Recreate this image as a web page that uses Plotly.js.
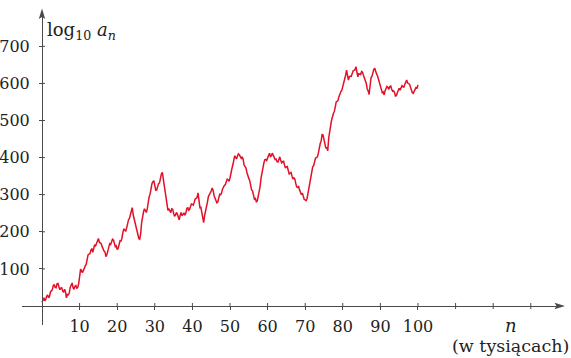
<!DOCTYPE html>
<html>
<head>
<meta charset="utf-8">
<script src="https://cdn.plot.ly/plotly-3.0.1.min.js"></script>
<style>html,body{margin:0;padding:0;background:#fff;}#chart{width:571px;height:358px;}</style>
</head>
<body>
<div id="chart"></div>
<script>
// values of log10(a_n), read every 0.25 thousand of n
const log10a = [
10,20,22,14,18,27,30,22,26,38,42,44,55,58,50,49,60,61,52,44,48,49,40,37,45,38,22,31,30,35,50,59,62,50,45,53,55,47,50,60,
88,98,97,90,95,106,108,112,125,138,140,141,150,155,145,160,165,162,170,180,182,172,170,168,160,150,148,146,133,138,150,164,168,166,175,180,178,165,160,162,
152,155,168,176,175,182,198,208,205,201,210,225,232,236,245,258,265,246,235,228,214,208,195,182,180,196,225,244,254,262,258,252,262,283,295,302,318,330,335,338,
325,312,313,326,330,332,345,356,360,341,330,315,290,268,258,261,254,252,262,261,250,242,245,252,248,238,232,245,252,243,248,251,245,250,262,266,258,260,268,275,
274,272,280,289,290,293,305,282,265,266,255,235,225,244,255,262,280,295,300,301,310,318,312,298,290,287,278,280,292,301,300,304,315,323,325,327,335,342,340,336,
345,361,370,380,398,405,400,397,405,410,407,400,398,402,395,380,375,372,360,348,344,338,325,313,310,302,288,290,281,283,295,304,322,344,360,370,385,394,395,392,
400,410,412,403,405,412,407,398,395,396,389,388,398,402,392,386,389,390,380,372,375,376,365,356,358,360,350,342,345,342,330,321,320,322,313,302,300,304,295,287,
286,284,290,306,315,330,355,369,375,378,389,399,400,402,412,428,438,445,462,461,450,430,425,428,418,452,478,485,500,514,519,524,540,550,552,555,565,575,578,582,
591,606,615,622,636,618,609,618,620,619,627,634,635,637,645,628,618,626,625,624,632,630,622,614,612,600,585,580,570,598,615,619,630,638,641,628,625,620,610,598,
595,580,575,577,569,580,585,592,590,584,591,593,585,579,580,576,566,567,575,584,587,582,590,594,591,590,598,607,609,601,600,598,590,580,575,573,580,588,590,586,
596
];
// n in thousands
const nThousands = log10a.map((_, i) => i * 0.25);

const xLabelVals = [10,20,30,40,50,60,70,80,90,100];
const xLabelText = ['10','20','30','40','50','60','70','80','90','100'];
const xExtraTickVals = [110,120,130];
const yTickVals = [100,200,300,400,500,600,700];
const yTickText = ['100','200','300','400','500','600','700'];

const axisColor = '#4a4a4a';
const serif = 'DejaVu Serif, Liberation Serif, serif';
const tickFont = {family: serif, size: 16, color: '#222'};

// plot area geometry (pixels)
const M = {l: 22, r: 11, t: 12, b: 33};
const W = 571 - M.l - M.r, H = 358 - M.t - M.b;
const px = v => (v - M.l) / W;
const py = v => (358 - M.b - v) / H;

const xRange = [-5.32, 137.77];
const yRange = [-51.2, 792.5];
const xPos = py(306);
const yPos = px(42);

const traces = [
  {x: nThousands, y: log10a, type: 'scatter', mode: 'lines',
   line: {color: 'rgb(226,16,40)', width: 1.5}, hoverinfo: 'skip'}
];

// upper halves of the x ticks and right halves of the y ticks (ticks cross the axes)
const tickShapes = [];
xLabelVals.forEach(v => tickShapes.push({type: 'line', xref: 'x', yref: 'paper', x0: v, x1: v,
  y0: py(306), y1: py(303), line: {color: axisColor, width: 1}}));
xExtraTickVals.forEach(v => tickShapes.push({type: 'line', xref: 'x', yref: 'paper', x0: v, x1: v,
  y0: py(309), y1: py(303), line: {color: axisColor, width: 1}}));
yTickVals.forEach(v => tickShapes.push({type: 'line', xref: 'paper', yref: 'y', x0: px(42), x1: px(45),
  y0: v, y1: v, line: {color: axisColor, width: 1}}));

const layout = {
  width: 571, height: 358,
  margin: M,
  paper_bgcolor: '#fff', plot_bgcolor: 'rgba(0,0,0,0)',
  showlegend: false,
  xaxis: {range: xRange, anchor: 'free', position: xPos, showgrid: false, zeroline: false,
    showline: true, linecolor: axisColor, linewidth: 1,
    tickmode: 'array', tickvals: xLabelVals, ticktext: xLabelText,
    ticks: 'outside', ticklen: 3, tickcolor: axisColor, tickwidth: 1,
    tickfont: tickFont, ticklabelstandoff: 3},
  yaxis: {range: yRange, anchor: 'free', position: yPos, showgrid: false, zeroline: false,
    showline: true, linecolor: axisColor, linewidth: 1,
    tickmode: 'array', tickvals: yTickVals, ticktext: yTickText,
    ticks: 'outside', ticklen: 3, tickcolor: axisColor, tickwidth: 1,
    tickfont: tickFont, ticklabelstandoff: 6},
  shapes: tickShapes.concat([
    {type: 'path', xref: 'paper', yref: 'paper', fillcolor: axisColor, line: {width: 0},
     path: `M ${px(42)},${py(8.5)} L ${px(38.8)},${py(19)} L ${px(42)},${py(17)} L ${px(45.2)},${py(19)} Z`},
    {type: 'path', xref: 'paper', yref: 'paper', fillcolor: axisColor, line: {width: 0},
     path: `M ${px(565)},${py(306)} L ${px(554.5)},${py(302.8)} L ${px(556.5)},${py(306)} L ${px(554.5)},${py(309.2)} Z`}
  ]),
  annotations: [
    {xref: 'paper', yref: 'paper', x: px(45), y: py(31), xanchor: 'left', yanchor: 'middle',
     showarrow: false, text: 'log<sub>10</sub> <i>a<sub>n</sub></i>',
     font: {family: serif, size: 18, color: '#222'}},
    {xref: 'paper', yref: 'paper', x: px(511), y: py(325), xanchor: 'center', yanchor: 'middle',
     showarrow: false, text: '<i>n</i>',
     font: {family: serif, size: 18, color: '#222'}},
    {xref: 'paper', yref: 'paper', x: px(510), y: py(346), xanchor: 'center', yanchor: 'middle',
     showarrow: false, text: '(w tysiącach)',
     font: {family: serif, size: 17.5, color: '#222'}}
  ]
};
Plotly.newPlot('chart', traces, layout, {staticPlot: true, displayModeBar: false});
</script>
</body>
</html>
